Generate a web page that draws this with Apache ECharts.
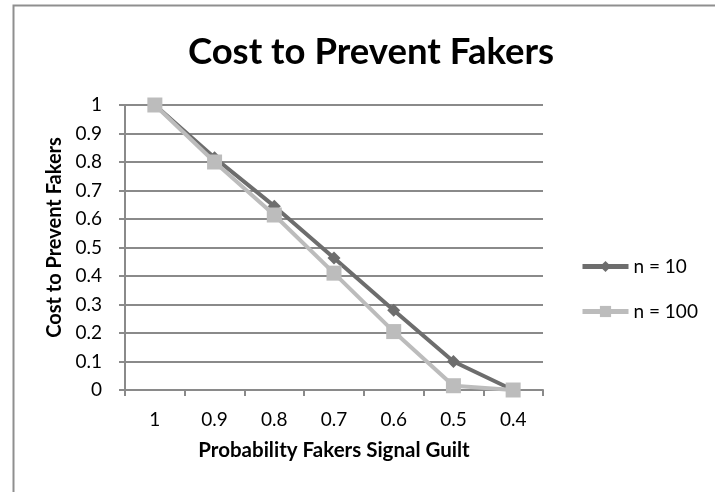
<!DOCTYPE html>
<html><head><meta charset="utf-8">
<script src="https://cdn.jsdelivr.net/npm/echarts@6/dist/echarts.min.js"></script>
<style>html,body{margin:0;padding:0;background:#fff}#c{width:715px;height:492px}</style>
</head><body><div id="c"></div>
<script>
const categories = ['1', '0.9', '0.8', '0.7', '0.6', '0.5', '0.4'];
const n10 = [1, 0.815, 0.645, 0.463, 0.28, 0.10, 0.0];
const n100 = [1, 0.80, 0.614, 0.41, 0.205, 0.015, 0.0];
const seriesNames = ['n = 10', 'n = 100'];
const FONT = 'Lato';

const chart = echarts.init(document.getElementById('c'), null, {renderer: 'canvas'});
chart.setOption({
  animation: false,
  backgroundColor: '#fff',
  textStyle: {fontFamily: FONT},
  graphic: [{
    type: 'rect', left: 11, top: 3, silent: true,
    shape: {x: 0, y: 0, width: 800, height: 600},
    style: {fill: 'none', stroke: '#8f8f8f', lineWidth: 2}
  }],
  title: {
    text: 'Cost to Prevent Fakers', left: 366, top: 29, textAlign: 'center',
    textStyle: {fontFamily: FONT, fontSize: 36.5, fontWeight: 'bold', color: '#000'}
  },
  legend: {
    orient: 'vertical', left: 575, top: 252, itemGap: 26,
    itemWidth: 46, itemHeight: 14,
    lineStyle: {width: 5},
    textStyle: {fontFamily: FONT, fontSize: 19, color: '#000'},
    data: seriesNames
  },
  grid: {left: 125, right: 172, top: 105, bottom: 102, containLabel: false},
  xAxis: {
    type: 'category', data: categories, boundaryGap: true,
    name: 'Probability Fakers Signal Guilt', nameLocation: 'middle', nameGap: 50,
    nameTextStyle: {fontFamily: FONT, fontSize: 20.5, fontWeight: 'bold', color: '#000'},
    axisLine: {lineStyle: {color: '#8a8a8a', width: 2}},
    axisTick: {show: true, length: 6, lineStyle: {color: '#8a8a8a', width: 2}},
    axisLabel: {fontFamily: FONT, fontSize: 19, color: '#000', margin: 20}
  },
  yAxis: {
    type: 'value', min: 0, max: 1, interval: 0.1,
    name: 'Cost to Prevent Fakers', nameLocation: 'middle', nameGap: 60, nameRotate: 90,
    nameTextStyle: {fontFamily: FONT, fontSize: 20, fontWeight: 'bold', color: '#000', padding: [0, 0, 0, 20]},
    axisLine: {show: true, lineStyle: {color: '#8a8a8a', width: 2}},
    axisTick: {show: true, length: 6, lineStyle: {color: '#8a8a8a', width: 2}},
    axisLabel: {fontFamily: FONT, fontSize: 19, color: '#000', margin: 23,
      formatter: v => String(Math.round(v * 10) / 10)},
    splitLine: {show: true, lineStyle: {color: '#8a8a8a', width: 2}}
  },
  series: [
    {name: seriesNames[0], type: 'line', data: n10, symbol: 'diamond', symbolSize: 13,
     lineStyle: {color: '#6d6d6d', width: 4}, itemStyle: {color: '#6d6d6d'}, z: 2},
    {name: seriesNames[1], type: 'line', data: n100, symbol: 'rect', symbolSize: 15,
     lineStyle: {color: '#bcbcbc', width: 4}, itemStyle: {color: '#bcbcbc'}, z: 3}
  ]
});
</script></body></html>
